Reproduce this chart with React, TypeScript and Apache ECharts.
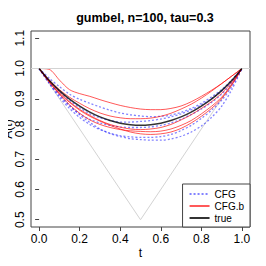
import React, { useEffect, useRef } from "react";
import * as echarts from "echarts";

const tGrid = [0, 0.05, 0.1, 0.15, 0.2, 0.25, 0.3, 0.35, 0.4, 0.45, 0.5, 0.55, 0.6, 0.65, 0.7, 0.75, 0.8, 0.85, 0.9, 0.95, 1];

const trueA = [1, 0.96, 0.927, 0.899, 0.876, 0.856, 0.84, 0.828, 0.819, 0.814, 0.812, 0.814, 0.819, 0.828, 0.84, 0.856, 0.876, 0.899, 0.927, 0.96, 1];

const cfgB1 = [1, 0.997, 0.962, 0.93, 0.917, 0.908, 0.897, 0.887, 0.878, 0.871, 0.866, 0.864, 0.864, 0.868, 0.876, 0.89, 0.908, 0.928, 0.95, 0.975, 1];
const cfgB2 = [1, 0.955, 0.915, 0.88, 0.852, 0.83, 0.815, 0.805, 0.798, 0.794, 0.792, 0.791, 0.793, 0.8, 0.812, 0.828, 0.85, 0.875, 0.905, 0.948, 1];
const cfgB3 = [1, 0.962, 0.93, 0.905, 0.885, 0.867, 0.853, 0.843, 0.837, 0.834, 0.834, 0.836, 0.842, 0.852, 0.866, 0.882, 0.902, 0.925, 0.95, 0.975, 1];
const cfgB4 = [1, 0.958, 0.922, 0.89, 0.865, 0.845, 0.828, 0.815, 0.806, 0.8, 0.798, 0.8, 0.805, 0.815, 0.83, 0.847, 0.868, 0.89, 0.918, 0.955, 1];
const cfgB5 = [1, 0.955, 0.918, 0.888, 0.862, 0.842, 0.826, 0.812, 0.8, 0.79, 0.784, 0.782, 0.784, 0.79, 0.802, 0.82, 0.842, 0.868, 0.9, 0.945, 1];

const cfg1 = [1, 0.968, 0.94, 0.915, 0.898, 0.885, 0.873, 0.862, 0.853, 0.847, 0.843, 0.841, 0.842, 0.846, 0.855, 0.868, 0.885, 0.906, 0.93, 0.962, 1];
const cfg2 = [1, 0.96, 0.925, 0.895, 0.87, 0.85, 0.837, 0.828, 0.823, 0.823, 0.825, 0.828, 0.833, 0.84, 0.85, 0.863, 0.88, 0.9, 0.925, 0.958, 1];
const cfg3 = [1, 0.952, 0.91, 0.876, 0.85, 0.832, 0.82, 0.812, 0.807, 0.805, 0.805, 0.807, 0.812, 0.82, 0.832, 0.848, 0.866, 0.888, 0.915, 0.95, 1];
const cfg4 = [1, 0.95, 0.905, 0.868, 0.838, 0.815, 0.798, 0.786, 0.778, 0.774, 0.772, 0.772, 0.775, 0.782, 0.795, 0.812, 0.835, 0.862, 0.895, 0.94, 1];
const cfg5 = [1, 0.955, 0.915, 0.878, 0.847, 0.822, 0.8, 0.785, 0.775, 0.768, 0.765, 0.763, 0.763, 0.767, 0.776, 0.79, 0.81, 0.838, 0.875, 0.93, 1];

const boundT = [0, 0.5, 1];
const boundA = [1, 0.5, 1];

const xTicks = [0, 0.2, 0.4, 0.6, 0.8, 1.0];
const yTicks = [0.5, 0.6, 0.7, 0.8, 0.9, 1.0, 1.1];

const FONT = "Liberation Sans, Arial, Helvetica, sans-serif";

export default function App() {
  const ref = useRef<HTMLDivElement>(null);
  useEffect(() => {
    if (!ref.current) return;
    const chart = echarts.init(ref.current, null, { renderer: "svg" });
    const toData = (vals: number[]) => tGrid.map((t, i) => [t, vals[i]]);
    const cfgSeries = [cfg1, cfg2, cfg3, cfg4, cfg5].map((v) => ({
      name: "CFG",
      type: "line",
      data: toData(v),
      smooth: 0.3,
      symbol: "none",
      lineStyle: { color: "rgba(30,30,255,0.55)", width: 1.3, type: [2, 2] },
      itemStyle: { color: "rgba(30,30,255,0.55)" },
      z: 3,
    }));
    const cfgBSeries = [cfgB1, cfgB2, cfgB3, cfgB4, cfgB5].map((v) => ({
      name: "CFG.b",
      type: "line",
      data: toData(v),
      smooth: 0.3,
      symbol: "none",
      lineStyle: { color: "rgba(255,0,0,0.65)", width: 1 },
      itemStyle: { color: "rgba(255,0,0,0.65)" },
      z: 4,
    }));
    chart.setOption({
      animation: false,
      backgroundColor: "#ffffff",
      textStyle: { fontFamily: FONT },
      title: {
        text: "gumbel, n=100, tau=0.3",
        left: 140,
        top: 6,
        textAlign: "center",
        textStyle: { fontFamily: FONT, fontSize: 12.5, fontWeight: "bold", color: "#000" },
      },
      graphic: [
        {
          type: "text",
          x: 8,
          y: 129,
          rotation: Math.PI / 2,
          style: {
            text: "A(t)",
            font: "12px " + FONT,
            fill: "#000",
            textAlign: "center",
            textVerticalAlign: "middle",
          },
        },
      ],
      grid: {
        left: 31,
        right: 16,
        top: 31,
        bottom: 39,
        show: true,
        borderColor: "#444",
        borderWidth: 1,
        containLabel: false,
        outerBoundsMode: "none",
      },
      legend: {
        orient: "vertical",
        right: 16,
        bottom: 39,
        data: ["CFG", "CFG.b", "true"],
        borderColor: "#444",
        borderWidth: 1,
        borderRadius: 0,
        backgroundColor: "#fff",
        padding: [5, 6, 4, 6],
        itemWidth: 20,
        itemHeight: 9,
        itemGap: 2,
        itemStyle: { opacity: 0 },
        textStyle: { fontFamily: FONT, fontSize: 10, color: "#000" },
      },
      xAxis: {
        type: "value",
        min: -0.04,
        max: 1.04,
        name: "t",
        nameLocation: "middle",
        nameGap: 20,
        nameMoveOverlap: false,
        nameTextStyle: { fontFamily: FONT, fontSize: 12, color: "#000" },
        axisLine: { show: false },
        axisTick: { show: true, length: 4, customValues: xTicks, lineStyle: { color: "#444" } },
        axisLabel: {
          customValues: xTicks,
          margin: 6,
          fontFamily: FONT,
          fontSize: 12,
          color: "#000",
          formatter: (v: number) => v.toFixed(1),
        },
        splitLine: { show: false },
      },
      yAxis: {
        type: "value",
        min: 0.476,
        max: 1.124,
        axisLine: { show: false },
        axisTick: { show: true, length: 4, customValues: yTicks, lineStyle: { color: "#444" } },
        axisLabel: {
          customValues: yTicks,
          rotate: 90,
          margin: 5,
          fontFamily: FONT,
          fontSize: 12,
          color: "#000",
          formatter: (v: number) => v.toFixed(1),
        },
        splitLine: { show: false },
      },
      series: [
        {
          name: "bounds",
          type: "line",
          data: boundT.map((t, i) => [t, boundA[i]]),
          symbol: "none",
          lineStyle: { color: "#d3d3d3", width: 1 },
          z: 1,
          markLine: {
            silent: true,
            symbol: "none",
            label: { show: false },
            lineStyle: { color: "#d3d3d3", width: 1, type: "solid" },
            data: [{ yAxis: 1 }],
          },
        },
        ...cfgSeries,
        ...cfgBSeries,
        {
          name: "true",
          type: "line",
          data: toData(trueA),
          smooth: 0.3,
          symbol: "none",
          lineStyle: { color: "rgba(0,0,0,0.8)", width: 1.5 },
          itemStyle: { color: "rgba(0,0,0,0.8)" },
          z: 5,
        },
      ],
    });
    return () => chart.dispose();
  }, []);
  return <div ref={ref} style={{ width: 266, height: 266, marginLeft: -8, marginTop: -8 }} />;
}
